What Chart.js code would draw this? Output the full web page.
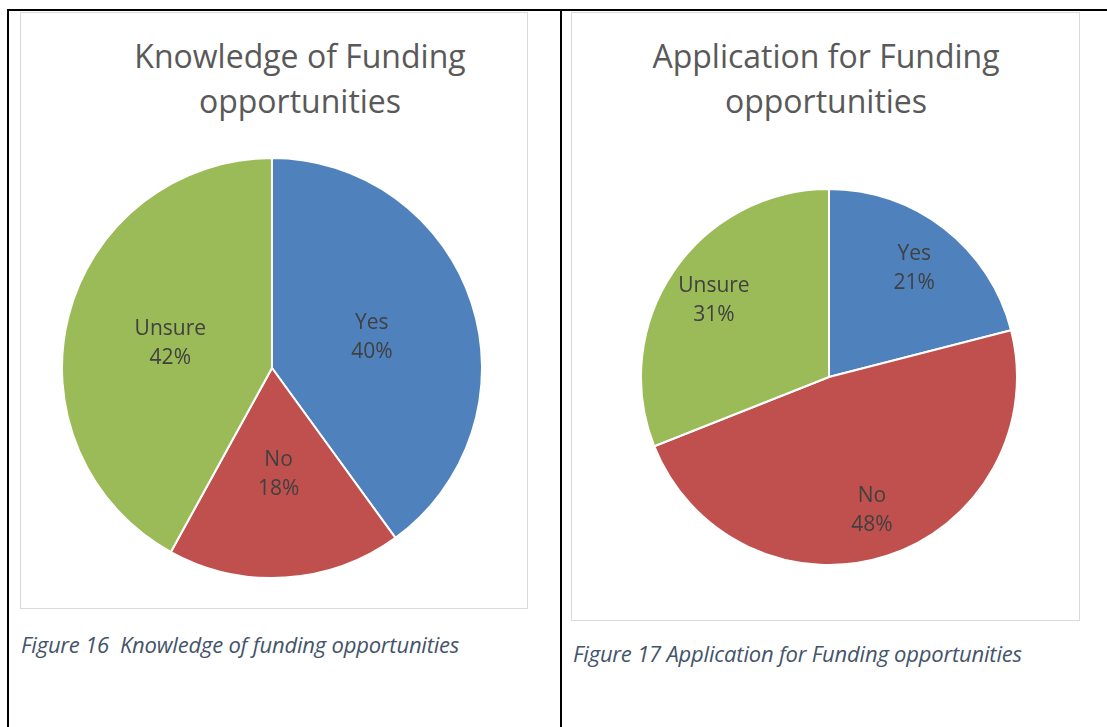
<!DOCTYPE html>
<html>
<head>
<meta charset="utf-8">
<script src="https://cdn.jsdelivr.net/npm/chart.js@4"></script>
<style>
  body { margin: 0; background: #fff; }
  #page { position: relative; width: 1107px; height: 727px; overflow: hidden; background: #fff; }
  .rule { position: absolute; background: #000; }
  .box { position: absolute; border: 1px solid #d9d9d9; box-sizing: border-box; background: #fff; }
  .title { position: absolute; text-align: center; font-family: "Open Sans", sans-serif; font-size: 32px; line-height: 45px; color: #595959; white-space: nowrap; }
  .caption { position: absolute; font-family: "Open Sans", sans-serif; font-style: italic; font-size: 22px; line-height: 30px; color: #44546a; white-space: pre; letter-spacing: -0.2px; }
  canvas { position: absolute; }
</style>
</head>
<body>
<div id="page">
  <div class="rule" style="left:7px;top:9px;width:1100px;height:2px"></div>
  <div class="rule" style="left:7px;top:9px;width:2px;height:718px"></div>
  <div class="rule" style="left:560px;top:9px;width:2px;height:718px"></div>

  <div class="box" style="left:20px;top:12px;width:508px;height:597px"></div>
  <div class="box" style="left:571px;top:12px;width:509px;height:609px"></div>

  <div class="title" id="title1" style="left:100px;top:33px;width:400px"></div>
  <div class="title" id="title2" style="left:626px;top:33px;width:400px"></div>

  <canvas id="knowledgePie" width="422" height="422" style="left:61px;top:157px"></canvas>
  <canvas id="applicationPie" width="378" height="378" style="left:640px;top:188px"></canvas>

  <div class="caption" id="cap1" style="left:21px;top:629px"></div>
  <div class="caption" id="cap2" style="left:573px;top:638px"></div>
</div>

<script>
// data
const categories = ["Yes", "No", "Unsure"];
const knowledgeValues = [40, 18, 42];
const applicationValues = [21, 48, 31];
const sliceColors = ["#4f81bd", "#c0504d", "#9bbb59"];

const title1Lines = ["Knowledge of Funding", "opportunities"];
const title2Lines = ["Application for Funding", "opportunities"];
const caption1 = "Figure 16  Knowledge of funding opportunities";
const caption2 = "Figure 17 Application for Funding opportunities";

document.getElementById("title1").innerHTML = title1Lines.join("<br>");
document.getElementById("title2").innerHTML = title2Lines.join("<br>");
document.getElementById("cap1").textContent = caption1;
document.getElementById("cap2").textContent = caption2;

// category + percent written inside each slice
const sliceLabels = {
    id: "sliceLabels",
    afterDatasetsDraw(chart, args, opts) {
        let ctx = chart.ctx;
        let meta = chart.getDatasetMeta(0);
        let vals = chart.data.datasets[0].data;
        let total = vals.reduce((a, b) => a + b, 0);
        ctx.save();
        ctx.font = '21px "Open Sans", sans-serif';
        ctx.fillStyle = "#404040";
        ctx.textAlign = "center";
        ctx.textBaseline = "middle";
        meta.data.forEach((arc, i) => {
            let p = arc.getProps(["x", "y", "startAngle", "endAngle", "outerRadius"], true);
            let mid = (p.startAngle + p.endAngle) / 2;
            let r = p.outerRadius * opts.frac;
            let cx = p.x + Math.cos(mid) * r;
            let cy = p.y + Math.sin(mid) * r;
            let pct = Math.round(vals[i] / total * 100) + "%";
            ctx.fillText(chart.data.labels[i], cx, cy - 13);
            ctx.fillText(pct, cx, cy + 16);
        });
        ctx.restore();
    }
};

function makePie(id, values, frac) {
    return new Chart(document.getElementById(id), {
        type: "pie",
        data: {
            labels: categories,
            datasets: [{
                data: values,
                backgroundColor: sliceColors,
                borderColor: "#ffffff",
                borderWidth: 2
            }]
        },
        options: {
            responsive: false,
            animation: false,
            events: [],
            layout: { padding: 0 },
            plugins: {
                legend: { display: false },
                tooltip: { enabled: false },
                sliceLabels: { frac: frac }
            }
        },
        plugins: [sliceLabels]
    });
}

makePie("knowledgePie", knowledgeValues, 0.5);
makePie("applicationPie", applicationValues, 0.74);
</script>
</body>
</html>
